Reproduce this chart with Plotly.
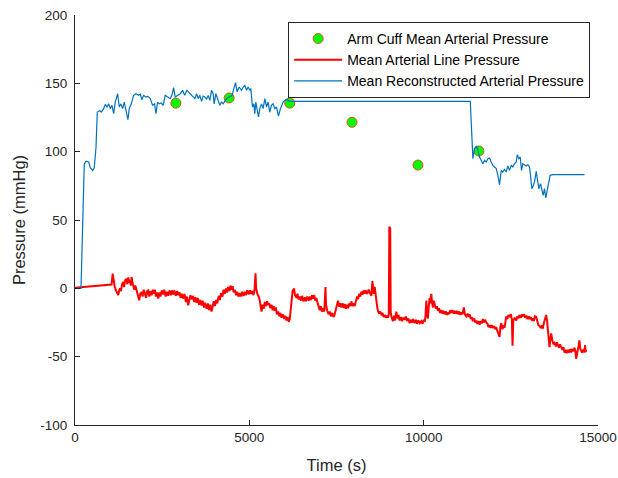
import plotly.graph_objects as go

# ---------------- data ----------------
cuff_time = [2894, 4421, 6160, 7945, 9836, 11584]
cuff_map = [135.5, 139.3, 135.5, 121.5, 90.2, 100.5]

recon_time = [0, 172, 266, 315, 393, 438, 507, 553, 602, 639, 708, 753, 822, 868, 917, 966,
              1011, 1060, 1109, 1155, 1223, 1269, 1318, 1367, 1412, 1461, 1518, 1556, 1613,
              1682, 1748, 1825, 1871, 1920, 1968, 2034, 2091, 2157, 2226, 2283, 2321, 2369,
              2415, 2472, 2530, 2587, 2664, 2730, 2779, 2828, 2874, 2951, 3017, 3086, 3143,
              3209, 3315, 3389, 3438, 3487, 3532, 3581, 3630, 3676, 3725, 3773, 3819, 3868,
              3916, 3962, 3991, 4040, 4106, 4154, 4203, 4249, 4346, 4441, 4507, 4555, 4604,
              4650, 4707, 4776, 4822, 4871, 4919, 4965, 5014, 5042, 5091, 5129, 5157, 5186,
              5223, 5263, 5300, 5349, 5395, 5444, 5492, 5538, 5587, 5635, 5681, 5730, 5778,
              5836, 5893, 5968, 6065, 6160, 6254, 11337, 11412, 11460, 11509, 11555, 11603,
              11652, 11698, 11747, 11795, 11841, 11890, 11938, 11984, 12033, 12082, 12127,
              12176, 12225, 12271, 12320, 12368, 12414, 12463, 12511, 12557, 12606, 12655,
              12684, 12729, 12769, 12807, 12844, 12893, 12941, 12987, 13036, 13065, 13102,
              13150, 13188, 13228, 13265, 13302, 13351, 13388, 13428, 13466, 13503, 13543,
              13580, 13629, 13703, 14612]
recon_map = [0, 0, 91, 93, 92.4, 88.3, 86.3, 88.3, 103, 129, 130, 129, 131.5, 134.6, 132.7, 135,
             131.5, 133.9, 127.8, 136.3, 142.4, 132.7, 135, 131.5, 136.3, 130.2, 123.4, 131.5, 135,
             141.2, 142.4, 141.2, 142, 138, 141.2, 140, 140.5, 138.8, 133.9, 135, 127.8, 136.3,
             135, 135.6, 133.9, 141.2, 140, 138.8, 141.2, 146.9, 140, 141.2, 142.4, 144.9, 141.2,
             144.9, 142.4, 140, 138.8, 142.4, 138.8, 141.2, 136.8, 140.7, 140, 138.3, 141.2, 137.6,
             144.9, 142.4, 135, 142.4, 136.3, 133.9, 136.3, 135, 138.8, 140, 141.2, 146.1, 150.5,
             143.7, 147.3, 144.9, 147.3, 148.5, 144.9, 147.3, 144.9, 146.1, 132.7, 135, 127.8, 136.3,
             131.5, 125.4, 131.5, 135, 131.5, 138.8, 132.7, 136.3, 129, 133.9, 135, 131.5, 132.7,
             126.1, 131.5, 136.3, 138.3, 136.8, 136.8, 136.8, 94.9, 102.2, 104.1, 101, 96.1,
             93.7, 91.2, 93.7, 92.4, 94.9, 95.4, 92.4, 90, 88.8, 87.6, 82.7,
             75.9, 86.3, 85.1, 87.1, 85.1, 89.5, 86.3, 90, 88.8, 91.2, 92.4,
             97.8, 94.9, 96.1, 86.3, 91.2, 90, 89.5, 90.5, 88.8, 82.7, 72.9,
             75.4, 79, 85.6, 77.8, 72.9, 76.6, 71.7, 68, 72.9, 66.1, 71.7,
             76.6, 82.7, 83.2, 83.2]

line_time = [0, 150, 300, 450, 600, 750, 900, 1000, 1050, 1080, 1110, 1140, 1175, 1200, 1241,
             1265, 1289, 1320, 1350, 1384, 1410, 1440, 1481, 1500, 1530, 1560, 1576, 1600, 1624,
             1650, 1670, 1700, 1730, 1768, 1800, 1842, 1870, 1911, 1940, 1970, 2006, 2040, 2070,
             2100, 2130, 2160, 2197, 2230, 2260, 2292, 2320, 2350, 2387, 2420, 2450, 2490, 2530,
             2560, 2600, 2640, 2673, 2710, 2750, 2780, 2816, 2850, 2890, 2930, 2960, 3000, 3030,
             3060, 3103, 3140, 3180, 3210, 3246, 3280, 3310, 3343, 3380, 3420, 3450, 3487, 3520,
             3560, 3590, 3630, 3660, 3700, 3730, 3773, 3810, 3840, 3880, 3916, 3950, 3980, 4011,
             4050, 4080, 4120, 4154, 4190, 4230, 4260, 4298, 4330, 4360, 4392, 4430, 4460, 4489,
             4520, 4550, 4584, 4620, 4650, 4690, 4727, 4760, 4800, 4835, 4871, 4900, 4940, 4980,
             5014, 5050, 5090, 5120, 5150, 5177, 5195, 5230, 5270, 5300, 5330, 5349, 5380, 5410,
             5444, 5480, 5510, 5538, 5570, 5600, 5635, 5670, 5700, 5730, 5760, 5790, 5825, 5860,
             5890, 5922, 5960, 6000, 6030, 6065, 6100, 6130, 6160, 6190, 6209, 6240, 6283, 6310,
             6352, 6380, 6410, 6446, 6480, 6510, 6550, 6590, 6620, 6660, 6700, 6733, 6770, 6800,
             6827, 6860, 6890, 6925, 6960, 6990, 7019, 7050, 7080, 7114, 7150, 7183, 7200, 7230,
             7270, 7306, 7340, 7380, 7415, 7449, 7480, 7510, 7543, 7580, 7610, 7641, 7680, 7710,
             7736, 7770, 7800, 7830, 7870, 7900, 7927, 7960, 7990, 8022, 8060, 8090, 8117, 8150,
             8180, 8214, 8250, 8280, 8309, 8340, 8380, 8423, 8460, 8501, 8529, 8550, 8570, 8595,
             8620, 8644, 8670, 8690, 8720, 8750, 8787, 8820, 8850, 8882, 8920, 8950, 8976, 9000,
             9015, 9040, 9055, 9080, 9119, 9150, 9180, 9216, 9250, 9280, 9311, 9350, 9380, 9420,
             9455, 9490, 9520, 9560, 9598, 9630, 9670, 9700, 9741, 9780, 9810, 9850, 9890, 9933,
             9970, 10000, 10028, 10050, 10076, 10100, 10122, 10150, 10171, 10195, 10219, 10240,
             10265, 10290, 10314, 10350, 10380, 10408, 10440, 10470, 10506, 10540, 10570, 10601,
             10640, 10670, 10695, 10730, 10760, 10792, 10830, 10860, 10887, 10920, 10950, 10981,
             11020, 11050, 11079, 11110, 11153, 11180, 11222, 11260, 11290, 11317, 11350, 11380,
             11411, 11450, 11480, 11509, 11540, 11570, 11603, 11640, 11670, 11698, 11730, 11760,
             11795, 11830, 11860, 11890, 11920, 11950, 11984, 12020, 12050, 12082, 12110, 12140,
             12176, 12200, 12225, 12260, 12290, 12320, 12345, 12368, 12400, 12430, 12463, 12500,
             12529, 12549, 12570, 12610, 12655, 12690, 12720, 12749, 12790, 12820, 12844, 12880,
             12910, 12941, 12980, 13010, 13036, 13070, 13100, 13130, 13160, 13190, 13228, 13260,
             13290, 13322, 13360, 13390, 13417, 13450, 13480, 13514, 13540, 13560, 13585, 13609,
             13630, 13657, 13690, 13720, 13752, 13790, 13820, 13846, 13880, 13910, 13944, 13980,
             14010, 14038, 14070, 14100, 14133, 14170, 14200, 14230, 14260, 14290, 14325, 14350,
             14373, 14395, 14420, 14445, 14468, 14490, 14517, 14540, 14564, 14590, 14610, 14631,
             14645, 14660]
line_map = [0.5, 0.8, 1.2, 1.5, 1.8, 2.4, 2.6, 3, 2.8, 10.7, 4, 1, -1.5, -3, -5,
            -2, 0, -2, 3, 4.6, 1, 6, 7, 3, 8, 4, 5.8, 2, 8.3,
            4, 2.2, -1, 2, -1.5, -5, -8.8, -4, -2.7, -6, -1, -3.9, -7, -2,
            -1.5, -6, -2, -5, -1, -4, -1, -6, -3, -7.5, -3, -6, -1.5, -4.5,
            -1, -6, -2.5, -5.5, -1.5, -5, -1.5, -4.5, -1.5, -5.5, -2, -5, -3, -7,
            -4, -7.5, -4, -10, -6, -12.4, -8, -5, -8, -5.5, -10, -6.5, -10.5, -7,
            -12, -8.5, -12.5, -9, -14, -10.5, -15, -11, -16, -12, -17, -12, -9.5, -13,
            -8.5, -11, -5.5, -8.5, -3.5, -6, -1, -4, 0, -3, 1, -2, 2, -1,
            1.5, -3, -1, -5, -2.5, -6, -3.5, -6, -2.5, -5.5, -2.5, -5, -1.5, -4.5,
            -1.5, -4, -2, -5, -1, 11, 0, -4, -6, -9, -14, -17, -12, -15,
            -10, -13, -9.5, -12, -11, -14.5, -12, -16, -13, -16.5, -14, -19, -17, -20.5,
            -18, -21.5, -19, -22.5, -20, -23.5, -21, -24.5, -22.5, -15, -5, -2, -0.2, -5,
            -7, -4, -8, -6, -9, -5.5, -9.5, -6.5, -9.5, -6, -9, -6, -8.5, -5,
            -7.5, -5, -9, -7, -11, -13, -16, -13, -17, -14.5, -17, 1, -12, -16,
            -19, -17, -20.5, -18, -21, -19, -16, -14, -9, -13.5, -11, -14, -11, -14.5,
            -11.5, -15, -12, -14.5, -11, -13, -9.5, -13, -11, -13, -9, -6, -8, -4,
            -6, -2.5, -4.5, -1.5, -4, -1.5, -4, -1, -3.5, -5.5, 5.4, -2, -4, 1,
            -6, -11.5, -14, -16.5, -18.5, -17, -19, -18, -21, -19.5, -21.5, -20, -21.5, -19,
            45, 44, -18, -21, -24, -20, -23.5, -17, -22, -19.5, -23.5, -21, -24, -21.5,
            -23, -20.5, -24, -22, -25.5, -23, -25, -22.5, -25.5, -23, -26, -23.5, -25.5, -24,
            -26, -23, -24.5, -21, -9, -20, -22, -12, -7, -11, -4, -10,
            -14, -9, -11.5, -15, -13, -16.5, -14.5, -18, -16, -18.5, -16.5, -19,
            -17, -19.5, -17.5, -19, -16, -18, -16, -18.5, -16.5, -18.5, -16.5, -19,
            -17, -19.5, -17.5, -19, -14, -19, -20.5, -18.5, -21, -19, -22.5, -21,
            -24, -22, -25, -23.5, -26, -24, -26.5, -24, -25.5, -22.5, -25, -23,
            -25, -26, -28.5, -27, -29, -27, -29, -27.5, -30, -28.5, -31, -33,
            -35.5, -28, -25.5, -30, -27, -29, -24, -20.5, -22.5, -19.5, -21, -19,
            -22.5, -42, -24, -21.5, -23.5, -20.5, -22, -19.5, -21.5, -19, -20.5, -19,
            -21.5, -20, -22.5, -20.5, -22.5, -21, -23.5, -22, -24, -20.5, -21, -25,
            -27, -27.5, -29, -27, -29.5, -25, -22, -19.5, -24, -28.5, -38, -43,
            -38, -33, -38, -41, -40, -42.5, -39.5, -41, -43.5, -41, -43.5, -45,
            -43, -47, -45, -47.5, -45, -47, -44.5, -47, -44.5, -46, -43.5, -46,
            -51.5, -46, -45, -42, -38, -44, -45.5, -47, -46, -44.5, -47, -41.5,
            -46.5, -45]

x_ticks = [0, 5000, 10000, 15000]
y_ticks = [-100, -50, 0, 50, 100, 150, 200]

# ---------------- figure ----------------
AX = "#262626"
FONT = "Liberation Sans, Arial, Helvetica, sans-serif"

fig = go.Figure()
fig.add_trace(go.Scatter(
    x=cuff_time, y=cuff_map, mode="markers", name="Arm Cuff Mean Arterial Pressure",
    marker=dict(size=10, color="#00FF00", line=dict(color="#D95319", width=1))))
fig.add_trace(go.Scatter(
    x=line_time, y=line_map, mode="lines", name="Mean Arterial Line Pressure",
    line=dict(color="#FF0000", width=2)))
fig.add_trace(go.Scatter(
    x=recon_time, y=recon_map, mode="lines", name="Mean Reconstructed Arterial Pressure",
    line=dict(color="#0072BD", width=1.2)))

fig.update_layout(
    width=618, height=478,
    margin=dict(l=75, r=20, t=15, b=53),
    paper_bgcolor="white", plot_bgcolor="white",
    font=dict(family=FONT, size=13.5, color=AX),
    showlegend=True,
    legend=dict(x=0.985, y=0.983, xanchor="right", yanchor="top",
                bgcolor="white", bordercolor=AX, borderwidth=1,
                font=dict(size=14, color="black"),
                tracegroupgap=0, itemwidth=48),
)
fig.update_xaxes(range=[0, 15000], tickvals=x_ticks, ticktext=[str(v) for v in x_ticks],
                 showgrid=False, zeroline=False, showline=True, linecolor=AX, linewidth=1,
                 ticks="inside", ticklen=5, tickcolor=AX, automargin=False,
                 ticklabeloverflow="allow",
                 title=dict(text="Time (s)", font=dict(size=16.5), standoff=15))
fig.update_yaxes(range=[-100, 200], tickvals=y_ticks, ticktext=[str(v) for v in y_ticks],
                 showgrid=False, zeroline=False, showline=True, linecolor=AX, linewidth=1,
                 ticks="inside", ticklen=5, tickcolor=AX, automargin=False,
                 ticklabelstandoff=4, ticklabeloverflow="allow",
                 title=dict(text="Pressure (mmHg)", font=dict(size=16.5), standoff=10))

# remove the default page margin so the 618x478 figure fills the window exactly
fig.write_html("out.html",
               config={"displayModeBar": False},
               post_script="document.body.style.margin='0';document.body.style.overflow='hidden';")
